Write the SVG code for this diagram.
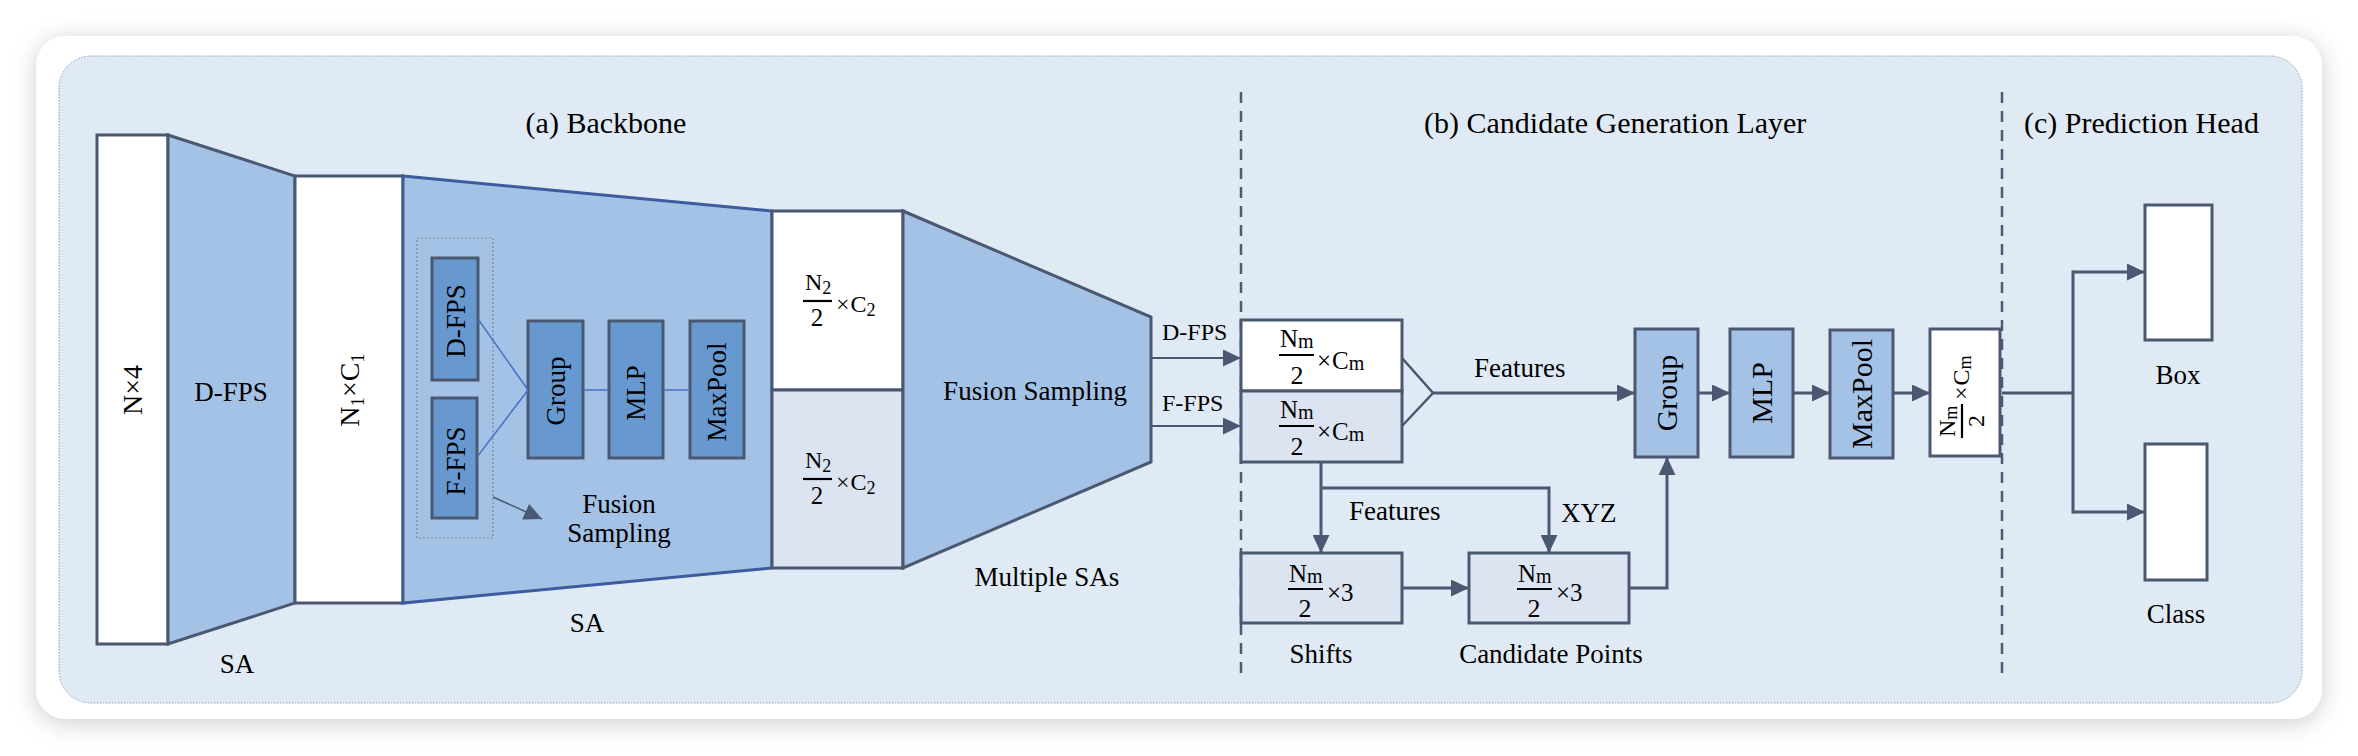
<svg xmlns="http://www.w3.org/2000/svg" width="2358" height="756" viewBox="0 0 2358 756">
<style>
.t{font-family:"Liberation Serif","Times New Roman",serif;fill:#000}
.ln{stroke:#4b5871;fill:none}
.box{stroke:#4b5871;stroke-width:3}
.wh{fill:#ffffff}
.lav{fill:#dce3f1}
.blu{fill:#a4c2e5}
.dk{fill:#6799d0}
.dash{stroke:#4d5a72;stroke-width:2.5;stroke-dasharray:11 8;fill:none}
.bar{stroke:#000;stroke-width:2.2}
</style>
<defs>
<filter id="sh" x="-5%" y="-10%" width="110%" height="120%">
<feDropShadow dx="0" dy="4" stdDeviation="12" flood-color="#000" flood-opacity="0.2"/>
</filter>
<marker id="ah" viewBox="0 0 18 17" refX="18" refY="8.5" markerWidth="18" markerHeight="17" markerUnits="userSpaceOnUse" orient="auto">
<path d="M0,0 L18,8.5 L0,17 z" fill="#4b5871"/>
</marker>
</defs>
<rect x="0" y="0" width="2358" height="756" fill="#ffffff"/>
<rect x="36" y="36" width="2286" height="683" rx="30" fill="#ffffff" filter="url(#sh)"/>
<rect x="59" y="56" width="2243" height="647" rx="32" fill="#e0eaf4" stroke="#8f9bb0" stroke-width="1" stroke-dasharray="1.5 1.5"/>

<g id="dividers">
<line class="dash" x1="1241" y1="92" x2="1241" y2="677"/>
<line class="dash" x1="2002" y1="92" x2="2002" y2="677"/>
</g>

<g id="titles">
<text class="t" x="606" y="133" font-size="30" text-anchor="middle">(a) Backbone</text>
<text class="t" x="1424" y="133" font-size="30">(b) Candidate Generation Layer</text>
<text class="t" x="2024" y="133" font-size="30">(c) Prediction Head</text>
</g>

<g id="input-nx4">
<rect class="box wh" x="97" y="135" width="71" height="509"/>
<text class="t" transform="translate(133,390) rotate(-90)" y="9" font-size="28" text-anchor="middle">N×4</text>
</g>

<g id="sa1-dfps">
<polygon class="box blu" points="168,135 295,176 295,603 168,644"/>
<text class="t" x="231" y="401" font-size="27" text-anchor="middle">D-FPS</text>
<text class="t" x="237" y="673" font-size="27" text-anchor="middle">SA</text>
</g>

<g id="n1c1">
<rect class="box wh" x="295" y="176" width="108" height="427"/>
<text class="t" transform="translate(350,390) rotate(-90)" y="9" font-size="28" text-anchor="middle">N<tspan font-size="19" dy="5">1</tspan><tspan font-size="28" dy="-5">×C</tspan><tspan font-size="19" dy="5">1</tspan></text>
</g>

<g id="sa2">
<polygon points="403,176 772,211 772,568 403,603" fill="#a4c2e5" stroke="#3d5c9e" stroke-width="3"/>
<rect x="417" y="238" width="76" height="300" fill="none" stroke="#7f8a99" stroke-width="1.2" stroke-dasharray="2 2"/>
<text class="t" x="587" y="632" font-size="27" text-anchor="middle">SA</text>
</g>

<g id="sa2-dfps">
<rect class="box dk" x="432" y="258" width="46" height="122"/>
<text class="t" transform="translate(456,321) rotate(-90)" y="9" font-size="27" text-anchor="middle">D-FPS</text>
</g>
<g id="sa2-ffps">
<rect class="box dk" x="432" y="398" width="45" height="120"/>
<text class="t" transform="translate(456,461) rotate(-90)" y="9" font-size="27" text-anchor="middle">F-FPS</text>
</g>
<g id="sa2-group">
<rect class="box dk" x="528" y="321" width="55" height="137"/>
<text class="t" transform="translate(556,391) rotate(-90)" y="9" font-size="27" text-anchor="middle">Group</text>
</g>
<g id="sa2-mlp">
<rect class="box dk" x="609" y="321" width="54" height="137"/>
<text class="t" transform="translate(636,393) rotate(-90)" y="9" font-size="27" text-anchor="middle">MLP</text>
</g>
<g id="sa2-maxpool">
<rect class="box dk" x="690" y="321" width="54" height="137"/>
<text class="t" transform="translate(717,392) rotate(-90)" y="9" font-size="27" text-anchor="middle">MaxPool</text>
</g>
<g id="sa2-fusion-label">
<text class="t" x="619" y="513" font-size="27" text-anchor="middle">Fusion</text>
<text class="t" x="619" y="542" font-size="27" text-anchor="middle">Sampling</text>
</g>

<g id="n2-top">
<rect class="box wh" x="772" y="211" width="131" height="179"/>
<text class="t" x="805" y="290" font-size="24">N<tspan font-size="18" dy="4">2</tspan></text>
<line class="bar" x1="803" y1="301" x2="832" y2="301"/>
<text class="t" x="817" y="326" font-size="25" text-anchor="middle">2</text>
<text class="t" x="836" y="312" font-size="24">×<tspan dx="1">C</tspan><tspan font-size="18" dy="4">2</tspan></text>
</g>
<g id="n2-bottom">
<rect class="box lav" x="772" y="390" width="131" height="178"/>
<text class="t" x="805" y="468" font-size="24">N<tspan font-size="18" dy="4">2</tspan></text>
<line class="bar" x1="803" y1="479" x2="832" y2="479"/>
<text class="t" x="817" y="504" font-size="25" text-anchor="middle">2</text>
<text class="t" x="836" y="490" font-size="24">×<tspan dx="1">C</tspan><tspan font-size="18" dy="4">2</tspan></text>
</g>

<g id="multiple-sas">
<polygon class="box blu" points="903,211 1151,317 1151,462 903,568"/>
<text class="t" x="1035" y="400" font-size="27" text-anchor="middle">Fusion Sampling</text>
<text class="t" x="1047" y="586" font-size="27" text-anchor="middle">Multiple SAs</text>
</g>

<g id="nm-dfps">
<rect class="box wh" x="1241" y="320" width="161" height="71"/>
<text class="t" x="1280" y="347" font-size="25">N<tspan font-size="20" dy="1">m</tspan></text>
<line class="bar" x1="1279" y1="355" x2="1314" y2="355"/>
<text class="t" x="1297" y="384" font-size="26" text-anchor="middle">2</text>
<text class="t" x="1317" y="369" font-size="25">×<tspan dx="1">C</tspan><tspan font-size="20" dy="1">m</tspan></text>
</g>
<g id="nm-ffps">
<rect class="box lav" x="1241" y="391" width="161" height="71"/>
<text class="t" x="1280" y="418" font-size="25">N<tspan font-size="20" dy="1">m</tspan></text>
<line class="bar" x1="1279" y1="426" x2="1314" y2="426"/>
<text class="t" x="1297" y="455" font-size="26" text-anchor="middle">2</text>
<text class="t" x="1317" y="440" font-size="25">×<tspan dx="1">C</tspan><tspan font-size="20" dy="1">m</tspan></text>
</g>

<g id="shifts">
<rect class="box lav" x="1241" y="553" width="161" height="70"/>
<text class="t" x="1289" y="582" font-size="25">N<tspan font-size="20" dy="1">m</tspan></text>
<line class="bar" x1="1288" y1="589" x2="1323" y2="589"/>
<text class="t" x="1305" y="617" font-size="26" text-anchor="middle">2</text>
<text class="t" x="1327" y="601" font-size="25">×3</text>
<text class="t" x="1321" y="663" font-size="27" text-anchor="middle">Shifts</text>
</g>

<g id="candidate-points">
<rect class="box lav" x="1469" y="553" width="160" height="70"/>
<text class="t" x="1518" y="582" font-size="25">N<tspan font-size="20" dy="1">m</tspan></text>
<line class="bar" x1="1517" y1="589" x2="1552" y2="589"/>
<text class="t" x="1534" y="617" font-size="26" text-anchor="middle">2</text>
<text class="t" x="1556" y="601" font-size="25">×3</text>
<text class="t" x="1551" y="663" font-size="27" text-anchor="middle">Candidate Points</text>
</g>

<g id="cg-group">
<rect class="box blu" x="1635" y="329" width="63" height="128"/>
<text class="t" transform="translate(1667,393) rotate(-90)" y="10" font-size="30" text-anchor="middle">Group</text>
</g>
<g id="cg-mlp">
<rect class="box blu" x="1730" y="329" width="63" height="128"/>
<text class="t" transform="translate(1762,393) rotate(-90)" y="10" font-size="30" text-anchor="middle">MLP</text>
</g>
<g id="cg-maxpool">
<rect class="box blu" x="1830" y="330" width="63" height="128"/>
<text class="t" transform="translate(1862,394) rotate(-90)" y="10" font-size="30" text-anchor="middle">MaxPool</text>
</g>
<g id="cg-output">
<rect class="box wh" x="1930" y="329" width="70" height="127"/>
<g transform="translate(1965,393) rotate(-90)">
<text class="t" x="-44" y="-10" font-size="24">N<tspan font-size="18" dy="2">m</tspan></text>
<line class="bar" x1="-45" y1="-3" x2="-11" y2="-3"/>
<text class="t" x="-28" y="19" font-size="24" text-anchor="middle">2</text>
<text class="t" x="-7" y="4" font-size="24">×<tspan dx="1">C</tspan><tspan font-size="18" dy="2">m</tspan></text>
</g>
</g>

<g id="head-box">
<rect class="box wh" x="2145" y="205" width="67" height="135"/>
<text class="t" x="2178" y="384" font-size="27" text-anchor="middle">Box</text>
</g>
<g id="head-class">
<rect class="box wh" x="2145" y="444" width="62" height="136"/>
<text class="t" x="2176" y="623" font-size="27" text-anchor="middle">Class</text>
</g>

<g id="connectors">
<line x1="478" y1="319" x2="528" y2="390" stroke="#4a70c0" stroke-width="1.5"/>
<line x1="477" y1="457" x2="528" y2="390" stroke="#4a70c0" stroke-width="1.5"/>
<line x1="583" y1="390" x2="609" y2="390" stroke="#4a70c0" stroke-width="1.5"/>
<line x1="663" y1="390" x2="690" y2="390" stroke="#4a70c0" stroke-width="1.5"/>
<line class="ln" x1="493" y1="497" x2="542" y2="519" stroke-width="1.5" marker-end="url(#ah)"/>
<line class="ln" x1="1151" y1="358" x2="1241" y2="358" stroke-width="2" marker-end="url(#ah)"/>
<line class="ln" x1="1151" y1="426" x2="1241" y2="426" stroke-width="2" marker-end="url(#ah)"/>
<polyline class="ln" points="1402,358 1433,393 1402,426" stroke-width="2.5"/>
<line class="ln" x1="1433" y1="393" x2="1635" y2="393" stroke-width="3" marker-end="url(#ah)"/>
<line class="ln" x1="1321" y1="462" x2="1321" y2="553" stroke-width="3" marker-end="url(#ah)"/>
<polyline class="ln" points="1321,488 1549,488 1549,553" stroke-width="3" marker-end="url(#ah)"/>
<line class="ln" x1="1402" y1="588" x2="1469" y2="588" stroke-width="3" marker-end="url(#ah)"/>
<polyline class="ln" points="1629,588 1667,588 1667,457" stroke-width="3" marker-end="url(#ah)"/>
<line class="ln" x1="1698" y1="393" x2="1730" y2="393" stroke-width="3" marker-end="url(#ah)"/>
<line class="ln" x1="1793" y1="393" x2="1830" y2="393" stroke-width="3" marker-end="url(#ah)"/>
<line class="ln" x1="1893" y1="393" x2="1930" y2="393" stroke-width="3" marker-end="url(#ah)"/>
<line class="ln" x1="2002" y1="393" x2="2073" y2="393" stroke-width="3"/>
<line class="ln" x1="2073" y1="270.5" x2="2073" y2="513.5" stroke-width="3"/>
<line class="ln" x1="2073" y1="272" x2="2145" y2="272" stroke-width="3" marker-end="url(#ah)"/>
<line class="ln" x1="2073" y1="512" x2="2145" y2="512" stroke-width="3" marker-end="url(#ah)"/>
<text class="t" x="1162" y="340" font-size="24">D-FPS</text>
<text class="t" x="1162" y="411" font-size="24">F-FPS</text>
<text class="t" x="1474" y="377" font-size="27">Features</text>
<text class="t" x="1349" y="520" font-size="27">Features</text>
<text class="t" x="1561" y="522" font-size="27">XYZ</text>
</g>
</svg>
